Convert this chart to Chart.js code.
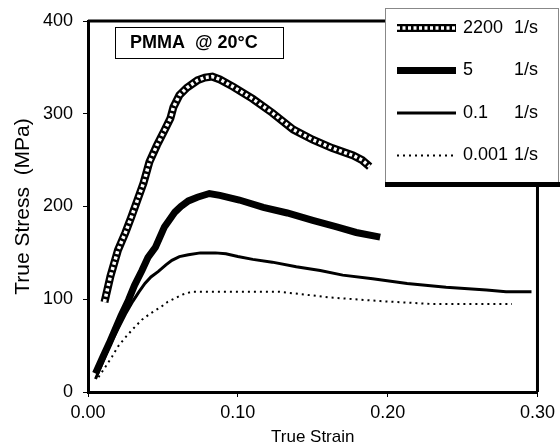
<!DOCTYPE html>
<html>
<head>
<meta charset="utf-8">
<script src="https://cdn.jsdelivr.net/npm/chart.js@4.4.1/dist/chart.umd.min.js"></script>
<style>
  html, body { margin: 0; padding: 0; background: #fff; }
  #grafico { display: block; }
</style>
</head>
<body>
<canvas id="grafico" width="560" height="448"></canvas>
<script>
// Curvas tensão x deformação do PMMA a 20°C, uma por taxa de deformação
const taxas = ['2200', '5', '0.1', '0.001'];
const unidade = '1/s';
const rotulo = 'PMMA  @ 20°C';

const strain2200 = [0.011, 0.015, 0.020, 0.025, 0.029, 0.033, 0.037, 0.041, 0.046, 0.051, 0.055, 0.057, 0.061, 0.066, 0.073, 0.078, 0.083, 0.088, 0.097, 0.110, 0.123, 0.137, 0.150, 0.163, 0.177, 0.183, 0.188];
const stress2200 = [97, 125, 153, 172, 189, 207, 225, 248, 266, 282, 295, 307, 320, 328, 336, 339, 340, 337, 329, 316, 301, 283, 272, 263, 255, 250, 243];

const strain5 = [0.005, 0.010, 0.014, 0.018, 0.022, 0.027, 0.031, 0.036, 0.040, 0.045, 0.048, 0.051, 0.055, 0.058, 0.062, 0.067, 0.073, 0.081, 0.088, 0.101, 0.117, 0.133, 0.150, 0.166, 0.179, 0.195];
const stress5 = [20, 38, 52, 67, 82, 99, 115, 131, 145, 156, 167, 178, 187, 194, 200, 206, 210, 214, 212, 207, 199, 193, 185, 178, 172, 167];

const strain01 = [0.005, 0.010, 0.015, 0.020, 0.025, 0.030, 0.034, 0.038, 0.042, 0.047, 0.052, 0.056, 0.061, 0.067, 0.075, 0.085, 0.092, 0.100, 0.110, 0.123, 0.139, 0.155, 0.170, 0.190, 0.213, 0.239, 0.266, 0.279, 0.296];
const stress01 = [14, 33, 52, 68, 84, 98, 108, 117, 124, 130, 137, 142, 146, 148, 150, 150, 149, 146, 143, 140, 135, 131, 126, 122, 117, 113, 110, 108, 108];

const strain0001 = [0.007, 0.012, 0.016, 0.020, 0.025, 0.030, 0.036, 0.042, 0.049, 0.053, 0.058, 0.063, 0.069, 0.080, 0.090, 0.100, 0.115, 0.128, 0.145, 0.161, 0.195, 0.228, 0.261, 0.283];
const stress0001 = [16, 28, 38, 49, 59, 68, 78, 85, 92, 97, 101, 105, 108, 108, 108, 108, 108, 108, 105, 102, 98, 95, 95, 95];

const xTicks = [0, 0.1, 0.2, 0.3];
const xTickLabels = ['0.00', '0.10', '0.20', '0.30'];
const yTicks = [0, 100, 200, 300, 400];

function pontos(xs, ys) {
    return xs.map((x, i) => ({ x: x, y: ys[i] }));
}

Chart.defaults.font.family = "'Liberation Sans', Arial, sans-serif";
Chart.defaults.color = '#000';

// estilo de cada curva (usado também na legenda)
const estilos = [
    [{ cor: '#000', largura: 8, traco: [] }, { cor: '#fff', largura: 3.5, traco: [3, 2.5] }],
    [{ cor: '#000', largura: 7, traco: [] }],
    [{ cor: '#000', largura: 3, traco: [] }],
    [{ cor: '#000', largura: 2, traco: [2, 4] }]
];

function linha(dados, estilo, ordem) {
    return {
        data: dados,
        borderColor: estilo.cor,
        borderWidth: estilo.largura,
        borderDash: estilo.traco,
        pointRadius: 0,
        fill: false,
        tension: 0,
        order: ordem
    };
}

const caixas = {
    id: 'caixas',
    afterDraw(chart) {
        const ctx = chart.ctx;
        const a = chart.chartArea;
        ctx.save();

        // moldura superior e direita
        ctx.strokeStyle = '#000';
        ctx.lineWidth = 3;
        ctx.beginPath();
        ctx.moveTo(a.left, a.top);
        ctx.lineTo(a.right, a.top);
        ctx.lineTo(a.right, a.bottom);
        ctx.stroke();

        // caixa PMMA
        ctx.lineWidth = 1;
        ctx.strokeRect(115.5, 27.5, 168, 31);
        ctx.font = "bold 18px 'Liberation Sans', Arial, sans-serif";
        ctx.fillStyle = '#000';
        ctx.textBaseline = 'middle';
        ctx.textAlign = 'left';
        ctx.fillText(rotulo, 130, 43);

        // legenda
        ctx.fillStyle = '#fff';
        ctx.fillRect(385, 8, 174, 176);
        ctx.strokeStyle = '#888';
        ctx.lineWidth = 1;
        ctx.strokeRect(385.5, 8.5, 173, 176);
        ctx.fillStyle = '#000';
        ctx.fillRect(385, 182, 175, 5);

        ctx.font = "18px 'Liberation Sans', Arial, sans-serif";
        taxas.forEach((t, i) => {
            const y = 28 + i * 42.5;
            estilos[i].forEach(e => {
                ctx.strokeStyle = e.cor;
                ctx.lineWidth = e.largura;
                ctx.setLineDash(e.traco);
                ctx.beginPath();
                ctx.moveTo(397, y);
                ctx.lineTo(456, y);
                ctx.stroke();
            });
            ctx.setLineDash([]);
            ctx.fillStyle = '#000';
            ctx.fillText(t, 463, y);
            ctx.fillText(unidade, 514, y);
        });
        ctx.restore();
    }
};

new Chart(document.getElementById('grafico'), {
    type: 'line',
    data: {
        datasets: [
            linha(pontos(strain2200, stress2200), estilos[0][1], 0),
            linha(pontos(strain2200, stress2200), estilos[0][0], 1),
            linha(pontos(strain5, stress5), estilos[1][0], 2),
            linha(pontos(strain01, stress01), estilos[2][0], 2),
            linha(pontos(strain0001, stress0001), estilos[3][0], 2)
        ]
    },
    options: {
        responsive: false,
        animation: false,
        layout: { padding: { top: 21, right: 21, bottom: 0, left: 0 } },
        plugins: {
            legend: { display: false },
            tooltip: { enabled: false }
        },
        scales: {
            x: {
                type: 'linear',
                min: 0,
                max: 0.3,
                afterBuildTicks: s => { s.ticks = xTicks.map(v => ({ value: v })); },
                afterFit: s => { s.height = 56; },
                ticks: {
                    font: { size: 18 },
                    padding: 5,
                    maxRotation: 0,
                    callback: (v, i) => xTickLabels[i]
                },
                grid: { drawOnChartArea: false, drawTicks: true, tickLength: 5, color: '#000' },
                border: { display: true, width: 3, color: '#000' },
                title: { display: true, text: 'True Strain', font: { size: 17 }, padding: { top: 0, bottom: 0 } }
            },
            y: {
                type: 'linear',
                min: 0,
                max: 400,
                afterBuildTicks: s => { s.ticks = yTicks.map(v => ({ value: v })); },
                afterFit: s => { s.width = 88; },
                ticks: { font: { size: 18 }, padding: 10 },
                grid: { drawOnChartArea: false, drawTicks: true, tickLength: 5, color: '#000' },
                border: { display: true, width: 3, color: '#000' },
                title: { display: true, text: 'True Stress  (MPa)', font: { size: 21 }, padding: { top: 11, bottom: 0 } }
            }
        }
    },
    plugins: [caixas]
});
</script>
</body>
</html>
